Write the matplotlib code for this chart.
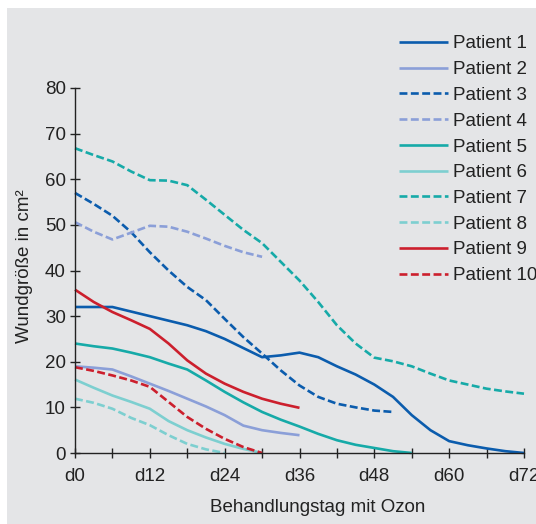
import numpy as np
import matplotlib
matplotlib.use("Agg")
import matplotlib.pyplot as plt
from matplotlib.patches import Rectangle

plt.rcParams['font.family'] = ['Liberation Sans', 'DejaVu Sans']

# Days (every 3 days) and wound sizes per patient
days = [0, 3, 6, 9, 12, 15, 18, 21, 24, 27, 30, 33, 36, 39, 42, 45, 48, 51, 54, 57, 60, 63, 66, 69, 72]

patient1 = [32, 32, 32, 31, 30, 29, 28, 26.7, 25, 23, 21, 21.4, 22, 21, 19, 17.2, 15, 12.3, 8.3, 5, 2.6, 1.7, 1, 0.4, 0]
patient2 = [19, 18.7, 18.3, 16.8, 15.2, 13.6, 11.9, 10.2, 8.3, 6, 5, 4.4, 3.9]
patient3 = [57, 54.6, 52, 48.4, 44, 40, 36.4, 33.5, 29.4, 25.4, 21.8, 18.1, 14.8, 12.3, 10.8, 10, 9.3, 9]
patient4 = [50.6, 48.5, 46.8, 48.3, 49.8, 49.6, 48.5, 47, 45.4, 44, 43]
patient5 = [24, 23.4, 22.9, 22, 21, 19.6, 18.3, 15.9, 13.4, 11.1, 9, 7.3, 5.8, 4.2, 2.8, 1.8, 1.1, 0.4, 0]
patient6 = [16.1, 14.3, 12.6, 11.2, 9.7, 7, 5, 3.4, 2, 0.9, 0]
patient7 = [66.8, 65.3, 63.9, 61.7, 59.8, 59.7, 58.7, 55.5, 52.2, 48.9, 46, 41.9, 37.8, 33.1, 28, 24, 20.9, 20.1, 19,
            17.4, 15.9, 15, 14.1, 13.5, 13]
patient8 = [11.9, 11, 9.7, 7.7, 6.1, 3.9, 2, 0.8, 0]
patient9 = [35.8, 33.1, 30.9, 29.1, 27.2, 24, 20.3, 17.4, 15.2, 13.4, 11.9, 10.8, 9.9]
patient10 = [18.8, 18, 17, 15.9, 14.5, 11.2, 7.9, 5.3, 3.1, 1.3, 0]

series = [patient1, patient2, patient3, patient4, patient5,
          patient6, patient7, patient8, patient9, patient10]
labels = ["Patient %d" % (i + 1) for i in range(10)]
colors = ["#0b5cad", "#8b9fd8", "#0b5cad", "#8b9fd8", "#16aaa8",
          "#7dcfd0", "#16aaa8", "#7dcfd0", "#cc1f2d", "#cc1f2d"]
styles = ["-", "-", "--", "--", "-", "-", "--", "--", "-", "--"]

fig = plt.figure(figsize=(5.36, 5.24), dpi=100)
fig.patch.set_facecolor("white")
fig.patches.append(Rectangle((7 / 536, 0), 1, (524 - 8) / 524, transform=fig.transFigure,
                             facecolor="#e4e5e7", edgecolor="none", zorder=-10))

ax = fig.add_axes([75 / 536, 71 / 524, 449 / 536, 365 / 524])
ax.set_facecolor("none")

for vals, lab, col, ls in zip(series, labels, colors, styles):
    line, = ax.plot(days[:len(vals)], vals, color=col, lw=1.9, ls=ls, label=lab,
                    clip_on=False, solid_capstyle="butt")
    if ls == "--":
        line.set_dashes((3.0, 1.3))

ax.set_xlim(0, 72)
ax.set_ylim(0, 80)
ax.set_xticks(range(0, 73, 12))
ax.set_xticklabels(["d%d" % d for d in range(0, 73, 12)])
ax.set_xticks(range(6, 73, 12), minor=True)
ax.set_yticks(range(0, 81, 10))

for s in ["top", "right"]:
    ax.spines[s].set_visible(False)
for s in ["left", "bottom"]:
    ax.spines[s].set_linewidth(1.0)
    ax.spines[s].set_color("#222222")

ax.tick_params(which="both", direction="inout", length=7, width=1.0, color="#222222",
               labelsize=13.5, labelcolor="#222222")
ax.tick_params(axis="x", pad=7)
ax.tick_params(axis="y", pad=3)

ax.set_xlabel("Behandlungstag mit Ozon", fontsize=13.5, color="#222222")
ax.xaxis.set_label_coords(0.541, -0.125)
ax.set_ylabel("Wundgröße in cm²", fontsize=13.5, color="#222222")
ax.yaxis.set_label_coords(-0.093, 0.512)

leg = ax.legend(loc="upper left", bbox_to_anchor=(390 / 536, 1 - 26 / 524),
                bbox_transform=fig.transFigure, frameon=False, fontsize=13.5,
                handlelength=2.6, handletextpad=0.25, labelspacing=0.46, borderpad=0)
for t in leg.get_texts():
    t.set_color("#222222")

fig.savefig("out.png", dpi=100)
